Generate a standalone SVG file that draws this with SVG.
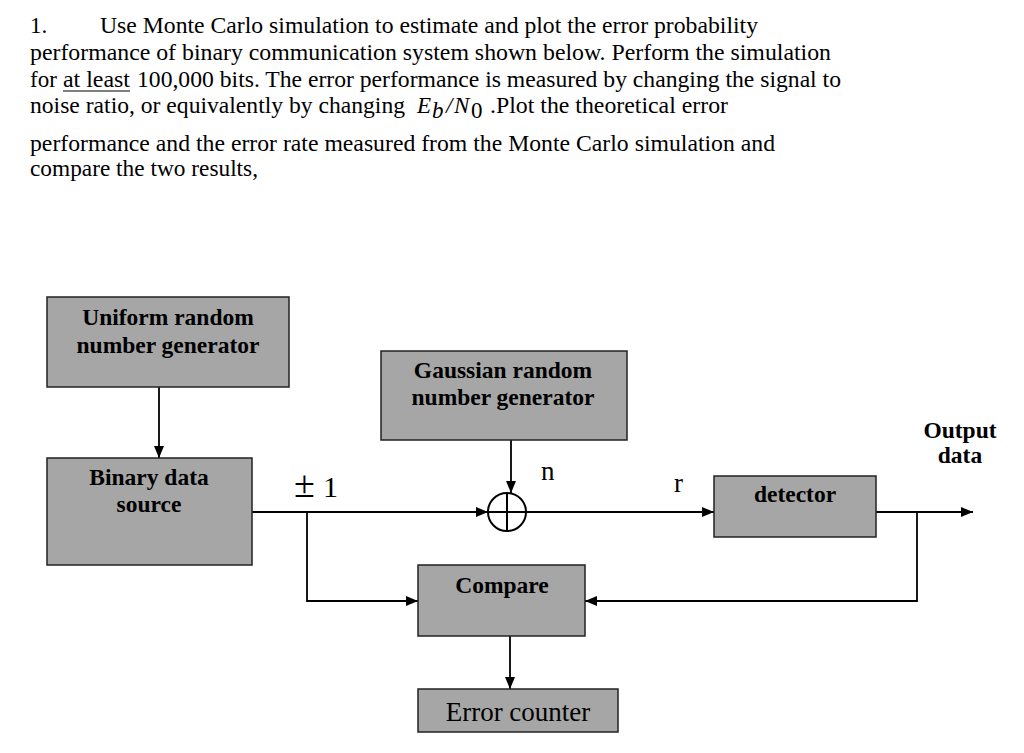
<svg xmlns="http://www.w3.org/2000/svg" width="1024" height="753" viewBox="0 0 1024 753">
<defs>
<marker id="ah" viewBox="0 0 12 10" refX="12" refY="5" markerWidth="12" markerHeight="10" markerUnits="userSpaceOnUse" orient="auto">
<path d="M0,0 L12,5 L0,10 z" fill="#000"/>
</marker>
<style>
.body{font-family:"Liberation Serif","Times New Roman",serif;font-size:23px;fill:#000}
.box{fill:#a6a6a6;stroke:#222;stroke-width:1.5}
.lbl{font-family:"Liberation Serif","Times New Roman",serif;font-size:23.5px;font-weight:bold;fill:#000;text-anchor:middle}
.reg{font-family:"Liberation Serif","Times New Roman",serif;fill:#000}
.arr{fill:none;stroke:#000;stroke-width:1.8;marker-end:url(#ah)}
</style>
</defs>
<rect width="1024" height="753" fill="#fff"/>
<g id="question">
<text class="body" x="30" y="33">1.</text>
<text class="body" x="100" y="33" textLength="658" lengthAdjust="spacingAndGlyphs">Use Monte Carlo simulation to estimate and plot the error probability</text>
<text class="body" x="30" y="60" textLength="801" lengthAdjust="spacingAndGlyphs">performance of binary communication system shown below. Perform the simulation</text>
<text class="body" x="30" y="87">for</text>
<text class="body" x="63" y="87" textLength="67" lengthAdjust="spacingAndGlyphs">at least</text>
<line x1="63" y1="91" x2="130" y2="91" stroke="#000" stroke-width="1.2"/>
<text class="body" x="137" y="87" textLength="704" lengthAdjust="spacingAndGlyphs">100,000 bits. The error performance is measured by changing the signal to</text>
<text class="body" x="30" y="113" textLength="375" lengthAdjust="spacingAndGlyphs">noise ratio, or equivalently by changing</text>
<text class="body" x="417" y="113" font-style="italic">E</text>
<text class="body" x="432" y="118" font-style="italic" font-size="15">b</text>
<text class="body" x="446" y="113" font-style="italic">/</text>
<text class="body" x="454" y="113" font-style="italic">N</text>
<text class="body" x="471" y="118" font-size="14">0</text>
<text class="body" x="490" y="113" textLength="238" lengthAdjust="spacingAndGlyphs">.Plot the theoretical error</text>
<text class="body" x="30" y="151" textLength="745" lengthAdjust="spacingAndGlyphs">performance and the error rate measured from the Monte Carlo simulation and</text>
<text class="body" x="30" y="176" textLength="228" lengthAdjust="spacingAndGlyphs">compare the two results,</text>
</g>
<g id="connectors">
<line class="arr" x1="159" y1="387" x2="159" y2="458"/>
<line class="arr" x1="252" y1="512" x2="488" y2="512"/>
<line class="arr" x1="511" y1="440" x2="511" y2="493"/>
<line class="arr" x1="526" y1="512" x2="714" y2="512"/>
<line class="arr" x1="876" y1="512" x2="973" y2="512"/>
<polyline class="arr" points="307,512 307,601 418,601"/>
<polyline class="arr" points="917,512 917,601 585,601"/>
<line class="arr" x1="510" y1="636" x2="510" y2="689"/>
<text class="reg" x="294" y="497" font-size="38">±</text>
<text class="reg" x="323" y="497" font-size="30">1</text>
<text class="reg" x="541" y="480" font-size="27">n</text>
<text class="reg" x="674" y="492" font-size="27">r</text>
</g>
<g id="uniform">
<rect class="box" x="47" y="297" width="242" height="90"/>
<text class="lbl" x="168" y="325">Uniform random</text>
<text class="lbl" x="168" y="353">number generator</text>
</g>
<g id="binary">
<rect class="box" x="47" y="458" width="205" height="107"/>
<text class="lbl" x="149" y="485">Binary data</text>
<text class="lbl" x="149" y="512">source</text>
</g>
<g id="gaussian">
<rect class="box" x="381" y="351" width="246" height="89"/>
<text class="lbl" x="503" y="378">Gaussian random</text>
<text class="lbl" x="503" y="405">number generator</text>
</g>
<g id="adder">
<circle cx="507" cy="512" r="19" fill="#fff" stroke="#000" stroke-width="2"/>
<line x1="507" y1="493" x2="507" y2="531" stroke="#000" stroke-width="2"/>
<line x1="488" y1="512" x2="526" y2="512" stroke="#000" stroke-width="2"/>
</g>
<g id="detector">
<rect class="box" x="714" y="476" width="162" height="61"/>
<text class="lbl" x="795" y="502">detector</text>
</g>
<g id="output">
<text class="lbl" x="960" y="438">Output</text>
<text class="lbl" x="960" y="463">data</text>
</g>
<g id="compare">
<rect class="box" x="418" y="565" width="167" height="71"/>
<text class="lbl" x="502" y="593">Compare</text>
</g>
<g id="errorcounter">
<rect class="box" x="418" y="689" width="200" height="43"/>
<text class="reg" x="518" y="721" font-size="27" text-anchor="middle">Error counter</text>
</g>
</svg>
